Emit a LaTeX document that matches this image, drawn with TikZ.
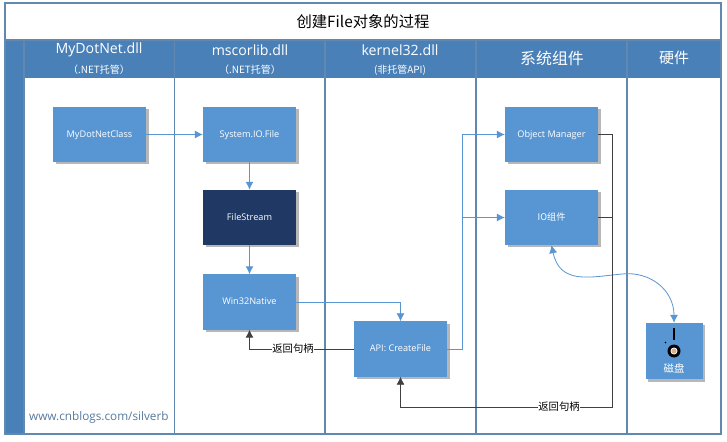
\documentclass[tikz,border=0pt]{standalone}
\usepackage{fontspec}
\setmainfont{Open Sans}
\newfontfamily\cjk{Noto Sans CJK SC}
\usetikzlibrary{shadows, arrows.meta}
\definecolor{laneblue}{HTML}{4A80B8}
\definecolor{boxblue}{HTML}{5896D3}
\definecolor{darkblue}{HTML}{1F3864}
\definecolor{framecol}{HTML}{6088B0}
\definecolor{backcol}{HTML}{404040}
\tikzset{
	procbox/.style={fill=boxblue, minimum width=93bp, minimum height=55bp, inner sep=0pt, text=white, text height=7bp, text depth=1bp,
		font=\fontsize{9.2}{10}\selectfont, drop shadow={shadow xshift=2.5bp, shadow yshift=-2.5bp, fill=black!40, opacity=0.7}},
	forward/.style={-{Latex[length=8bp, width=8bp]}, draw=boxblue, line width=0.8bp},
	back/.style={-{Latex[length=8bp, width=8bp]}, draw=backcol, line width=0.9bp},
	lanehead/.style={text=white, align=center, inner sep=0pt},
	backlabel/.style={fill=white, inner sep=0.5pt, font=\cjk\fontsize{10.4}{11}\selectfont}
}
\begin{document}
\begin{tikzpicture}[x=1bp, y=-1bp, >=latex]
	\useasboundingbox (0, 0) rectangle (727, 442);
	\fill[white] (0, 0) rectangle (727, 442);

	% header band and left strip
	\fill[laneblue] (5, 40) rectangle (721, 78);
	\fill[laneblue] (5, 78) rectangle (24, 434);

	% lanes
	\draw[framecol, line width=1.1bp] (5, 3) rectangle (721, 434);
	\draw[framecol, line width=1.1bp] (5, 40) -- (721, 40);
	\draw[framecol, line width=1.1bp] (24, 40) -- (24, 434);
	\foreach \lanex in {174.5, 325, 476, 627}
		\draw[framecol, line width=1.1bp] (\lanex, 40) -- (\lanex, 434);

	\node[inner sep=0pt] (title) at (363, 22) {\fontsize{15.4}{17}\selectfont\cjk 创建File对象的过程};

	\node[lanehead, font=\fontsize{14.2}{16}\selectfont] (dotnethead) at (99, 50) {MyDotNet.dll};
	\node[lanehead, font=\cjk\fontsize{10}{11}\selectfont] (dotnetsub) at (99, 70) {（.NET托管）};
	\node[lanehead, font=\fontsize{14.2}{16}\selectfont] (corlibhead) at (250, 50) {mscorlib.dll};
	\node[lanehead, font=\cjk\fontsize{10}{11}\selectfont] (corlibsub) at (250, 70) {（.NET托管）};
	\node[lanehead, font=\fontsize{14.2}{16}\selectfont] (kernelhead) at (400, 50) {kernel32.dll};
	\node[lanehead, font=\cjk\fontsize{10}{11}\selectfont] (kernelsub) at (400, 70) {(非托管API)};
	\node[lanehead, font=\cjk\fontsize{16}{18}\selectfont] (syshead) at (552, 58) {系统组件};
	\node[lanehead, font=\cjk\fontsize{15}{17}\selectfont] (hardhead) at (674, 58) {硬件};

	% process boxes
	\node[procbox] (myclass) at (99.5, 134.5) {MyDotNetClass};
	\node[procbox] (iofile) at (249.5, 134.5) {System.IO.File};
	\node[procbox, fill=darkblue] (filestream) at (249.5, 217.5) {FileStream};
	\node[procbox] (native) at (249.5, 302) {Win32Native};
	\node[procbox] (createfile) at (400.5, 349) {API: CreateFile};
	\node[procbox] (objmgr) at (551.5, 134.5) {Object Manager};
	\node[procbox, font=\cjk\fontsize{9.2}{10}\selectfont] (iopart) at (551.5, 217.5) {IO组件};
	\node[procbox, minimum width=57bp, minimum height=56bp] (disk) at (674, 351) {};

	% disk icon
	\draw[black, line width=1.4bp] (674, 328) -- (674, 340);
	\fill[black] (665.5, 342.5) circle [radius=0.8];
	\fill[black] (674, 351) circle [radius=6.5];
	\fill[white] (674, 351) circle [radius=3.5];
	\fill[brown!60!white] (674, 351) circle [radius=2.6];
	\node[text=white, inner sep=0pt, font=\cjk\fontsize{10.5}{11}\selectfont] (disklabel) at (674, 368) {磁盘};

	% forward calls
	\coordinate (apiup) at (462, 349);
	\coordinate (objleft) at (462, 134.5);
	\coordinate (ioleft) at (462, 217.5);
	\coordinate (nativeturn) at (400.5, 302);
	\draw[forward] (myclass) -- (iofile);
	\draw[forward, line width=1.2bp] (iofile) -- (filestream);
	\draw[forward, line width=1.2bp] (filestream) -- (native);
	\draw[forward] (native.east) -- (nativeturn) -- (createfile.north);
	\draw[forward] (createfile.east) -- (apiup) -- (objleft) -- (objmgr.west);
	\draw[forward] (ioleft) -- (iopart.west);
	\draw[{Latex[length=8bp, width=8bp]}-{Latex[length=8bp, width=8bp]}, draw=boxblue, line width=0.8bp] (iopart.south) .. controls (560, 285) and (590, 277) .. (622, 274)
		.. controls (650, 271) and (674, 290) .. (disk.north);

	% returned handle
	\coordinate (rightdown) at (612, 407);
	\coordinate (rightup) at (612, 134.5);
	\coordinate (iojoin) at (612, 217.5);
	\coordinate (apidown) at (400.5, 407);
	\coordinate (nativedown) at (249.5, 349);
	\draw[back] (objmgr.east) -- (rightup) -- (rightdown) -- (apidown) -- (createfile.south);
	\draw[draw=backcol, line width=0.9bp] (iopart.east) -- (iojoin);
	\draw[back] (createfile.west) -- (nativedown) -- (native.south);
	\node[backlabel] (nativeret) at (293, 349) {返回句柄};
	\node[backlabel] (apiret) at (559, 407) {返回句柄};

	\node[anchor=west, inner sep=0pt, text=framecol!90!black, font=\fontsize{11.8}{13}\selectfont] (site) at (29, 417) {www.cnblogs.com/silverb};
\end{tikzpicture}
\end{document}
